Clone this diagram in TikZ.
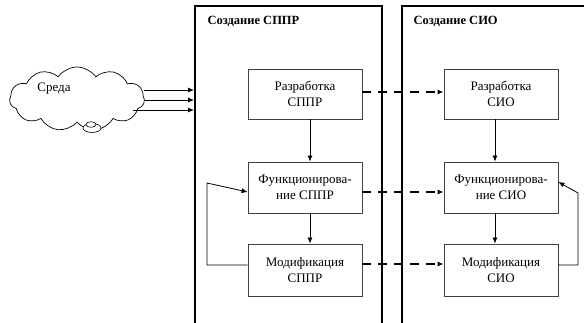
\documentclass[tikz,border=0pt]{standalone}
\usepackage{fontspec}
\setmainfont{Liberation Serif}
\newfontfamily\tnrfont{Liberation Serif}
\usetikzlibrary{arrows.meta,shapes.symbols}
\begin{document}
\begin{tikzpicture}[x=1pt,y=-1pt,
  every node/.style={font=\tnrfont\fontsize{13}{16}\selectfont},
  stagebox/.style={draw=black!75,line width=0.8pt,minimum width=114pt,inner sep=0pt,align=center},
  frameline/.style={line width=2.4pt},
  flow/.style={line width=0.8pt,-{Latex[length=6pt,width=5pt]}},
  dflow/.style={line width=1.6pt,dash pattern=on 9pt off 7pt,-{Latex[length=6pt,width=5pt]}},
  title/.style={font=\tnrfont\fontsize{12.5}{15}\selectfont\bfseries,anchor=west}]
\useasboundingbox (0,0) rectangle (584,323);
% frames
\draw[frameline] (195,340) -- (195,6) -- (382,6) -- (382,340);
\draw[frameline] (402,340) -- (402,6) -- (600,6);
\node[title] (t1) at (204,21) {Создание СППР};
\node[title] (t2) at (410,21) {Создание СИО};
% cloud
\node[cloud,draw,line width=0.7pt,cloud puffs=11,cloud puff arc=110,aspect=2.2,minimum width=135pt,minimum height=64pt,inner sep=0pt] (env) at (77,99) {};
\node (envt) at (54,89) {Среда};
\draw[line width=0.6pt,fill=white] (92,128) ellipse [x radius=9,y radius=4.5];
\draw[line width=0.6pt,fill=white] (91,124.5) ellipse [x radius=5,y radius=2.8];
\coordinate (e1) at (144,90);
\coordinate (e2) at (144,100);
\coordinate (e3) at (133,110);
\coordinate (f1) at (194,90);
\coordinate (f2) at (194,100);
\coordinate (f3) at (194,110);
\draw[flow] (e1) -- (f1);
\draw[flow] (e2) -- (f2);
\draw[flow] (e3) -- (f3);
% boxes
\node[stagebox,minimum height=50pt] (b1) at (305,94) {Разработка\\СППР};
\node[stagebox,minimum height=51pt] (b2) at (305,187.5) {Функционирова-\\ние СППР};
\node[stagebox,minimum height=52pt] (b3) at (305,270) {Модификация\\СППР};
\node[stagebox,minimum height=50pt] (c1) at (501,94) {Разработка\\СИО};
\node[stagebox,minimum height=51pt] (c2) at (501,187.5) {Функционирова-\\ние СИО};
\node[stagebox,minimum height=52pt] (c3) at (501,270) {Модификация\\СИО};
% vertical flows
\draw[flow] ([xshift=5pt]b1.south) -- ([xshift=5pt]b2.north);
\draw[flow] ([xshift=5pt]b2.south) -- ([xshift=5pt]b3.north);
\draw[flow] ([xshift=-6pt]c1.south) -- ([xshift=-6pt]c2.north);
\draw[flow] ([xshift=-6pt]c2.south) -- ([xshift=-6pt]c3.north);
% dashed
\draw[dflow] ([yshift=2pt]b1.east) -- ([yshift=2pt]c1.west);
\draw[dflow] ([yshift=-4.5pt]b2.east) -- ([yshift=-4.5pt]c2.west);
\draw[dflow] ([yshift=6pt]b3.east) -- ([yshift=6pt]c3.west);
% feedback
\draw[flow] ([yshift=5pt]b3.west) -| (207,183) -- ([yshift=-4.5pt]b2.west);
\draw[flow] ([yshift=5pt]c3.east) -| (578,193) -- ([yshift=5.5pt]c2.east);
\end{tikzpicture}
\end{document}
